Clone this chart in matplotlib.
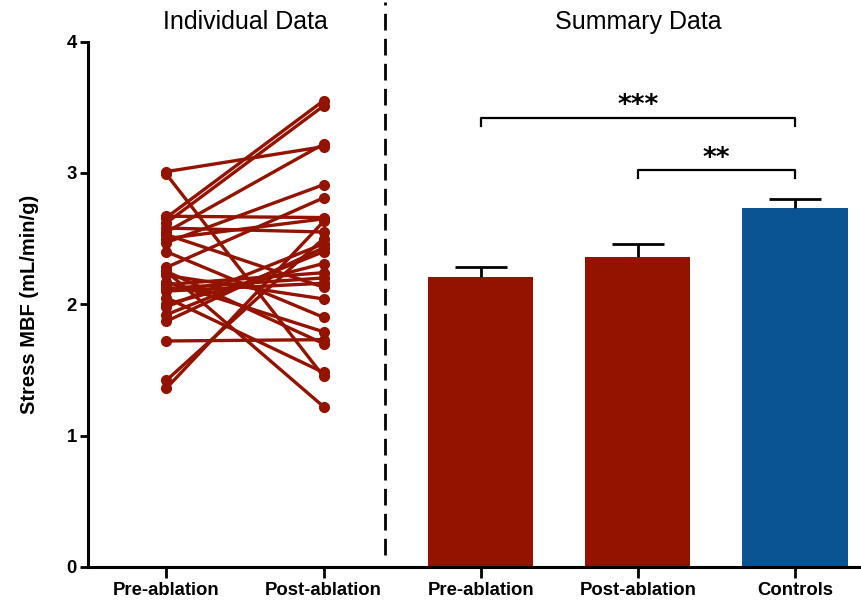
import matplotlib.pyplot as plt

plt.rcParams['font.family'] = ['Liberation Sans', 'DejaVu Sans']

# individual paired values (pre, post)
pre = [3.01, 2.99, 2.66, 2.62, 2.55, 2.50, 2.47, 2.28, 2.25, 1.36, 1.42, 1.72, 1.87,
       1.92, 2.05, 2.10, 2.15, 2.17, 2.22, 2.40, 2.53, 2.58, 2.00, 1.98, 2.67, 2.25, 2.12]
post = [3.20, 1.45, 3.55, 3.51, 3.22, 2.65, 2.91, 2.81, 1.22, 2.63, 2.50, 1.73, 2.43,
        2.40, 1.48, 2.16, 2.24, 1.79, 2.04, 1.90, 2.13, 2.55, 2.31, 2.46, 2.66, 1.70, 2.20]

groups = ['Pre-ablation', 'Post-ablation', 'Pre-ablation', 'Post-ablation', 'Controls']
bar_means = [2.21, 2.36, 2.73]
bar_err = [0.07, 0.10, 0.07]
bar_colors = ['#931200', '#931200', '#0A5494']
line_color = '#931200'

fig = plt.figure(figsize=(8.61, 6.03), dpi=100)
ax = fig.add_axes([0.102, 0.060, 0.898, 0.871])

for a, b in zip(pre, post):
    ax.plot([0, 1], [a, b], color=line_color, lw=2.4, marker='o', ms=7,
            solid_capstyle='round', zorder=3)

xb = [2, 3, 4]
ax.bar(xb, bar_means, width=0.67, color=bar_colors, zorder=2)
# upper-only error bars
tops = [m + e for m, e in zip(bar_means, bar_err)]
ax.vlines(xb, bar_means, tops, color='black', lw=2, zorder=3)
ax.hlines(tops, [x - 0.165 for x in xb], [x + 0.165 for x in xb], color='black', lw=2, zorder=3)

# significance brackets
def bracket(x1, x2, y, h, label):
    ax.plot([x1, x1, x2, x2], [y - h, y, y, y - h], color='black', lw=1.6, clip_on=False)
    ax.text((x1 + x2) / 2, y - 0.01, label, ha='center', va='bottom',
            fontsize=19, fontweight='bold', family='DejaVu Sans')

bracket(2, 4, 3.42, 0.06, '***')
bracket(3, 4, 3.02, 0.06, '**')

# divider
ax.plot([1.39, 1.39], [0.09, 4.3], color='black', lw=2, ls=(0, (6, 3)), clip_on=False)

title_font = ['Liberation Sans Narrow', 'Liberation Sans']
ax.text(0.5, 4.15, 'Individual Data', ha='center', va='center', fontsize=18, family=title_font)
ax.text(3.0, 4.15, 'Summary Data', ha='center', va='center', fontsize=18, family=title_font)

ax.set_xlim(-0.5, 4.42)
ax.set_ylim(0, 4)
ax.set_yticks([0, 1, 2, 3, 4])
ax.set_xticks(range(5))
ax.set_xticklabels(groups)
for lbl in ax.get_xticklabels() + ax.get_yticklabels():
    lbl.set_fontweight('bold')
    lbl.set_fontsize(13.3)
ax.set_ylabel('Stress MBF (mL/min/g)', fontsize=14.5, fontweight='bold', labelpad=20)
ax.tick_params(axis='both', width=2, length=6, direction='out')
ax.tick_params(axis='x', length=8, pad=3)
ax.tick_params(axis='y', pad=2)
for s in ['top', 'right']:
    ax.spines[s].set_visible(False)
for s in ['left', 'bottom']:
    ax.spines[s].set_linewidth(2.2)

fig.savefig('out.png', dpi=100)
